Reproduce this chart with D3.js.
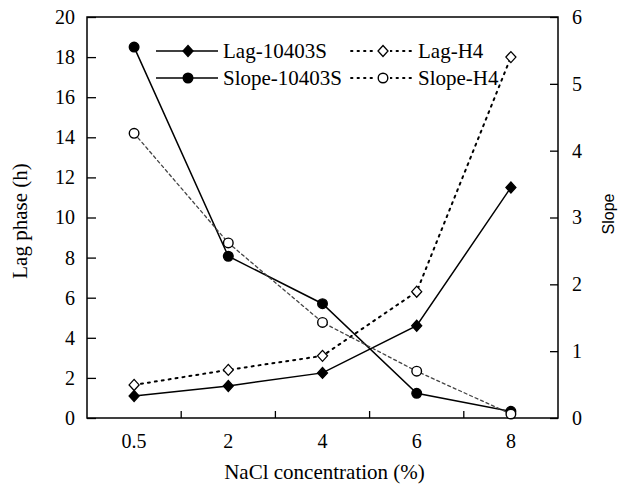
<!DOCTYPE html>
<html lang="en">
  <head>
    <meta charset="UTF-8" />
    <script src="https://cdn.jsdelivr.net/npm/d3@7/dist/d3.min.js"></script>
    <title>Lag phase and slope</title>
    <style>
      body { margin: 0; background: #fff; }
      .chart text { font-family: "Liberation Serif", Tinos, "Times New Roman", "DejaVu Serif", serif; fill: #000; }
      .chart text.sans { font-family: "Liberation Sans", Arimo, Arial, sans-serif; }
    </style>
  </head>
  <body>
    <svg class="chart" width="620" height="485"></svg>
    <script>
      // data
      const nacl = ['0.5', '2', '4', '6', '8'];
      const lag10403S = [1.1, 1.6, 2.25, 4.6, 11.5];
      const lagH4 = [1.65, 2.4, 3.1, 6.3, 18.0];
      const slope10403S = [5.55, 2.42, 1.71, 0.37, 0.1];
      const slopeH4 = [4.26, 2.62, 1.43, 0.7, 0.06];
      const lagTicks = [0, 2, 4, 6, 8, 10, 12, 14, 16, 18, 20];
      const slopeTicks = [0, 1, 2, 3, 4, 5, 6];

      const serif = '"Liberation Serif", Tinos, "Times New Roman", "DejaVu Serif", serif';
      const svg = d3.select('.chart');
      const plotL = 87, plotR = 558, plotT = 17, plotB = 418;

      const x = d3.scaleBand().domain(nacl).range([plotL, plotR]);
      const yLag = d3.scaleLinear().domain([0, 20]).range([plotB, plotT]);
      const ySlope = d3.scaleLinear().domain([0, 6]).range([plotB, plotT]);

      // series: which axis, line style, marker
      const series = [
        { name: 'Lag-10403S', values: lag10403S, y: yLag, dash: null, color: '#000', width: 1.5, shape: 'diamond', fill: '#000' },
        { name: 'Lag-H4', values: lagH4, y: yLag, dash: '2,5', color: '#000', width: 2, shape: 'diamond', fill: '#fff' },
        { name: 'Slope-10403S', values: slope10403S, y: ySlope, dash: null, color: '#000', width: 1.5, shape: 'circle', fill: '#000' },
        { name: 'Slope-H4', values: slopeH4, y: ySlope, dash: '3,3', color: '#444', width: 1.3, shape: 'circle', fill: '#fff' }
      ];

      // axes (ticks point inward)
      const gl = svg.append('g')
        .attr('transform', `translate(${plotL},0)`)
        .call(d3.axisLeft(yLag).tickValues(lagTicks).tickFormat(d3.format('d'))
          .tickSizeInner(-9).tickSizeOuter(0).tickPadding(12));
      const gr = svg.append('g')
        .attr('transform', `translate(${plotR},0)`)
        .call(d3.axisRight(ySlope).tickValues(slopeTicks).tickFormat(d3.format('d'))
          .tickSizeInner(-8).tickSizeOuter(0).tickPadding(14));
      const gb = svg.append('g')
        .attr('transform', `translate(0,${plotB})`)
        .call(d3.axisBottom(x).tickSize(0).tickPadding(16));

      [gl, gr, gb].forEach(g => {
        g.attr('font-family', null);
        g.select('.domain').remove();
        g.selectAll('.tick line').attr('stroke', '#000').attr('stroke-width', 1.3);
        g.selectAll('.tick text').attr('font-size', 20).style('font-family', serif);
      });

      // bottom ticks sit between categories
      svg.append('g').selectAll('line')
        .data(nacl.slice(0, -1))
        .join('line')
        .attr('x1', d => x(d) + x.bandwidth())
        .attr('x2', d => x(d) + x.bandwidth())
        .attr('y1', plotB)
        .attr('y2', plotB - 7)
        .attr('stroke', '#000')
        .attr('stroke-width', 1.3);

      // frame
      svg.append('rect')
        .attr('x', plotL).attr('y', plotT)
        .attr('width', plotR - plotL).attr('height', plotB - plotT)
        .attr('fill', 'none').attr('stroke', '#000').attr('stroke-width', 1.5);

      // titles
      svg.append('text')
        .attr('x', (plotL + plotR) / 2 + 2).attr('y', 479)
        .attr('text-anchor', 'middle').attr('font-size', 21)
        .style('font-family', serif)
        .text('NaCl concentration (%)');
      svg.append('text')
        .attr('transform', 'translate(27,221) rotate(-90)')
        .attr('text-anchor', 'middle').attr('font-size', 21)
        .style('font-family', serif)
        .text('Lag phase (h)');
      svg.append('text')
        .attr('class', 'sans')
        .attr('transform', 'translate(614,214) rotate(-90)')
        .attr('text-anchor', 'middle').attr('font-size', 16)
        .text('Slope');

      const cx = d => x(d) + x.bandwidth() / 2;

      function marker(sel, s) {
        if (s.shape === 'diamond') {
          sel.append('path')
            .attr('d', 'M0,-5.5L5,0L0,5.5L-5,0Z')
            .attr('fill', s.fill).attr('stroke', '#000').attr('stroke-width', 1.3);
        } else {
          sel.append('circle')
            .attr('r', 4.8)
            .attr('fill', s.fill).attr('stroke', '#000').attr('stroke-width', 1.4);
        }
      }

      // lines
      const plot = svg.append('g');
      series.forEach(s => {
        const line = d3.line().x((d, i) => cx(nacl[i])).y(d => s.y(d));
        plot.append('path')
          .datum(s.values)
          .attr('d', line)
          .attr('fill', 'none')
          .attr('stroke', s.color)
          .attr('stroke-width', s.width)
          .attr('stroke-linecap', s.dash ? 'round' : 'butt')
          .attr('stroke-dasharray', s.dash);
      });
      // markers on top
      series.forEach(s => {
        plot.append('g').selectAll('g')
          .data(s.values)
          .join('g')
          .attr('transform', (d, i) => `translate(${cx(nacl[i])},${s.y(d)})`)
          .each(function () { marker(d3.select(this), s); });
      });

      // legend
      const legendPos = [[156, 51], [351, 51], [156, 78], [351, 78]];
      series.forEach((s, i) => {
        const [lx, ly] = legendPos[i];
        const g = svg.append('g').attr('transform', `translate(${lx},${ly})`);
        g.append('line')
          .attr('x1', 0).attr('x2', 62).attr('y1', 0).attr('y2', 0)
          .attr('stroke', '#000')
          .attr('stroke-width', s.dash ? 1.8 : 1.5)
          .attr('stroke-linecap', s.dash ? 'round' : 'butt')
          .attr('stroke-dasharray', s.dash ? '1.5,5' : null);
        const m = g.append('g').attr('transform', 'translate(32,0)');
        if (s.dash) m.append('rect').attr('x', -7).attr('y', -4).attr('width', 14).attr('height', 8).attr('fill', '#fff');
        marker(m, s);
        g.append('text')
          .attr('x', 67).attr('y', 7)
          .attr('font-size', 21)
          .style('font-family', serif)
          .text(s.name);
      });
    </script>
  </body>
</html>
